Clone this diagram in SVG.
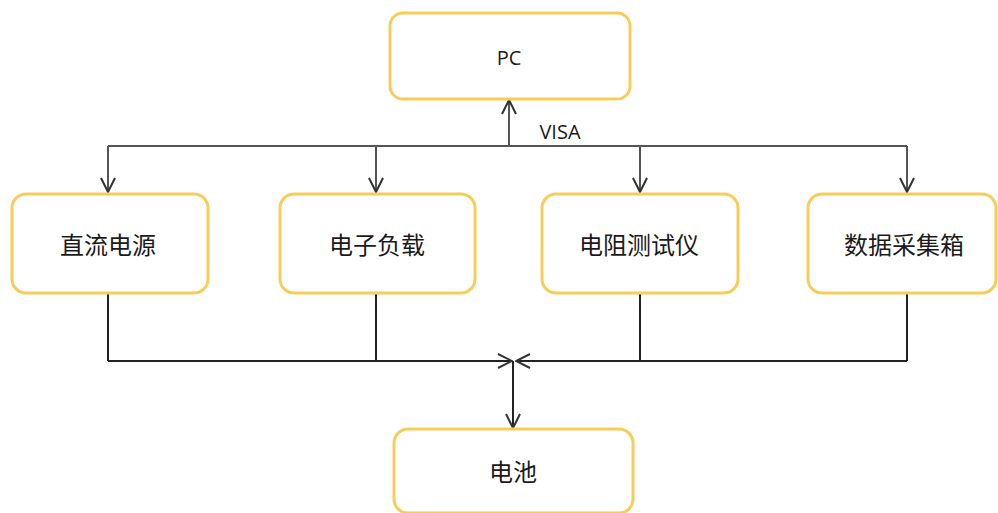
<svg xmlns="http://www.w3.org/2000/svg" width="998" height="513" viewBox="0 0 998 513">
<style>
.box{fill:#fff;stroke:#F7CD5A;stroke-width:3}
.cn{font-family:"Liberation Sans","Noto Sans CJK SC",sans-serif;font-size:24px;fill:#1a1a1a;text-anchor:middle;dominant-baseline:central}
.en{font-family:"Open Sans","Liberation Sans",sans-serif;font-size:20px;fill:#1a1a1a;text-anchor:middle;dominant-baseline:central}
.ln{fill:none;stroke:#555;stroke-width:2}
.dk{fill:none;stroke:#222;stroke-width:2}
</style>
<defs>
<marker id="ah" viewBox="0 0 16 16" refX="15" refY="8" markerWidth="16" markerHeight="16" markerUnits="userSpaceOnUse" orient="auto">
<path d="M1,1 L15,8 L1,15" fill="none" stroke="#333" stroke-width="2"/>
</marker>
</defs>
<g id="connectors">
<line class="ln" x1="509" y1="146" x2="509" y2="100" marker-end="url(#ah)"/>
<path class="ln" d="M108,146 H907"/>
<line class="ln" x1="108" y1="146" x2="108" y2="192" marker-end="url(#ah)"/>
<line class="ln" x1="376" y1="146" x2="376" y2="192" marker-end="url(#ah)"/>
<line class="ln" x1="640" y1="146" x2="640" y2="192" marker-end="url(#ah)"/>
<line class="ln" x1="907" y1="146" x2="907" y2="192" marker-end="url(#ah)"/>
<path class="dk" d="M108,294 V361"/>
<path class="dk" d="M376,294 V361"/>
<path class="dk" d="M640,294 V361"/>
<path class="dk" d="M907,294 V361"/>
<line class="dk" x1="108" y1="361" x2="512" y2="361" marker-end="url(#ah)"/>
<line class="dk" x1="907" y1="361" x2="516" y2="361" marker-end="url(#ah)"/>
<line class="dk" x1="513" y1="361" x2="513" y2="428" marker-end="url(#ah)"/>
<text class="en" x="560" y="131">VISA</text>
</g>
<g id="pc"><rect class="box" x="390" y="13" width="240" height="86" rx="13"/><text class="en" x="509" y="57">PC</text></g>
<g id="dc"><rect class="box" x="12" y="194" width="196" height="99" rx="14"/><text class="cn" x="108" y="245">直流电源</text></g>
<g id="load"><rect class="box" x="280" y="194" width="195" height="99" rx="14"/><text class="cn" x="377" y="245">电子负载</text></g>
<g id="res"><rect class="box" x="542" y="194" width="196" height="99" rx="14"/><text class="cn" x="639" y="245">电阻测试仪</text></g>
<g id="daq"><rect class="box" x="808" y="194" width="188" height="99" rx="14"/><text class="cn" x="904" y="245">数据采集箱</text></g>
<g id="bat"><rect class="box" x="394" y="429" width="239" height="84" rx="14"/><text class="cn" x="513" y="472">电池</text></g>
</svg>
